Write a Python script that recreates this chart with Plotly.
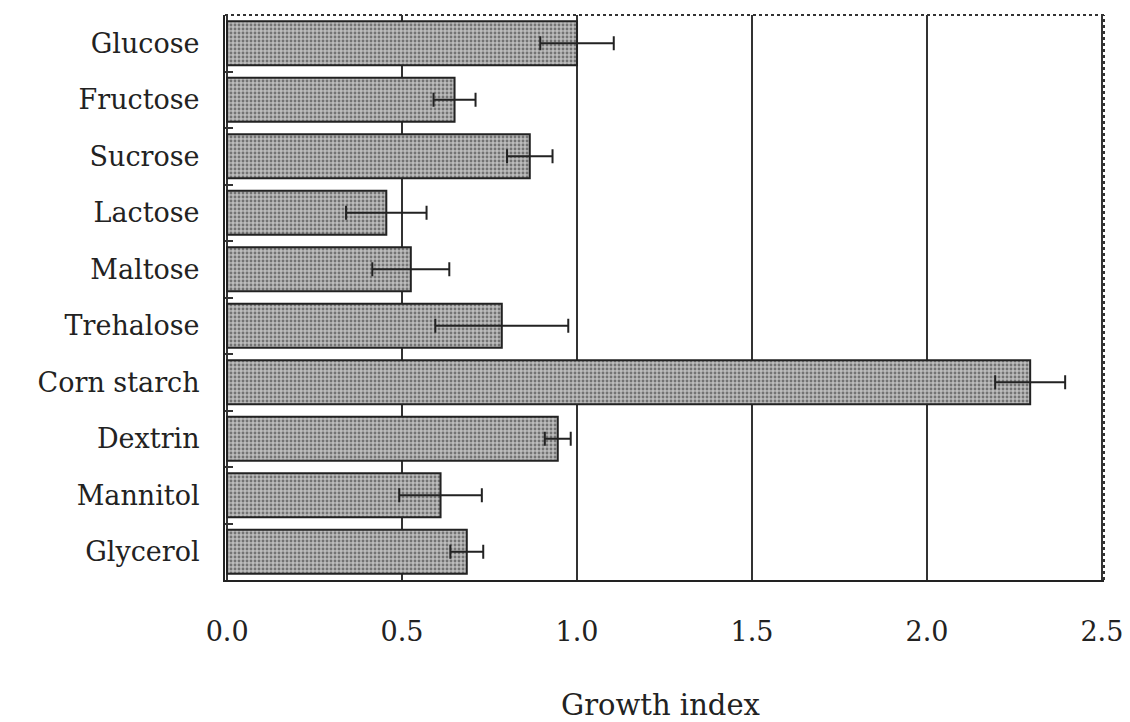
import plotly.graph_objects as go

categories = ["Glucose", "Fructose", "Sucrose", "Lactose", "Maltose",
              "Trehalose", "Corn starch", "Dextrin", "Mannitol", "Glycerol"]
growth_index = [1.00, 0.65, 0.865, 0.455, 0.525, 0.785, 2.295, 0.945, 0.61, 0.685]
error = [0.105, 0.06, 0.065, 0.115, 0.11, 0.19, 0.10, 0.037, 0.118, 0.047]
x_ticks = [0.0, 0.5, 1.0, 1.5, 2.0, 2.5]
x_tick_labels = ["0.0", "0.5", "1.0", "1.5", "2.0", "2.5"]

FONT = "DejaVu Serif"

fig = go.Figure()
fig.add_trace(go.Bar(
    y=categories,
    x=growth_index,
    orientation="h",
    width=0.78,
    marker=dict(
        color="#b0b0b0",
        line=dict(color="#222222", width=2),
        pattern=dict(shape=".", fgcolor="#2a2a2a", bgcolor="#bcbcbc",
                     size=4, solidity=0.4),
    ),
    error_x=dict(type="data", array=error, visible=True,
                 color="#222222", thickness=2, width=7),
    showlegend=False,
))

# dotted top and right frame
fig.add_shape(type="line", xref="paper", yref="paper", x0=0, x1=1, y0=1, y1=1,
              line=dict(color="#333333", width=2, dash="dot"))
fig.add_shape(type="line", xref="paper", yref="paper", x0=1, x1=1, y0=0, y1=1,
              line=dict(color="#333333", width=2, dash="dot"))

fig.add_annotation(text="Growth index", xref="paper", yref="paper",
                   x=0.495, y=-0.221, xanchor="center", yanchor="middle",
                   showarrow=False, font=dict(family=FONT, size=29, color="#222222"))

fig.update_layout(
    width=1122, height=714,
    paper_bgcolor="#ffffff",
    plot_bgcolor="#ffffff",
    margin=dict(l=217, r=22, t=7, b=142),
    font=dict(family=FONT, size=26, color="#222222"),
)
fig.update_xaxes(
    range=[-0.006, 2.506],
    tickvals=x_ticks, ticktext=x_tick_labels,
    showgrid=True, gridcolor="#333333", gridwidth=1.5,
    zeroline=False,
    showline=True, linecolor="#222222", linewidth=2,
    ticks="", ticklabelstandoff=27,
    tickfont=dict(family=FONT, size=27, color="#222222"),
)
fig.update_yaxes(
    autorange="reversed",
    showgrid=False, zeroline=False,
    showline=True, linecolor="#222222", linewidth=2,
    ticks="inside", ticklen=8, tickwidth=1.5, tickcolor="#333333",
    tickson="boundaries",
    ticklabelstandoff=18,
    tickfont=dict(family=FONT, size=27, color="#222222"),
)

fig.write_html("out.html")
